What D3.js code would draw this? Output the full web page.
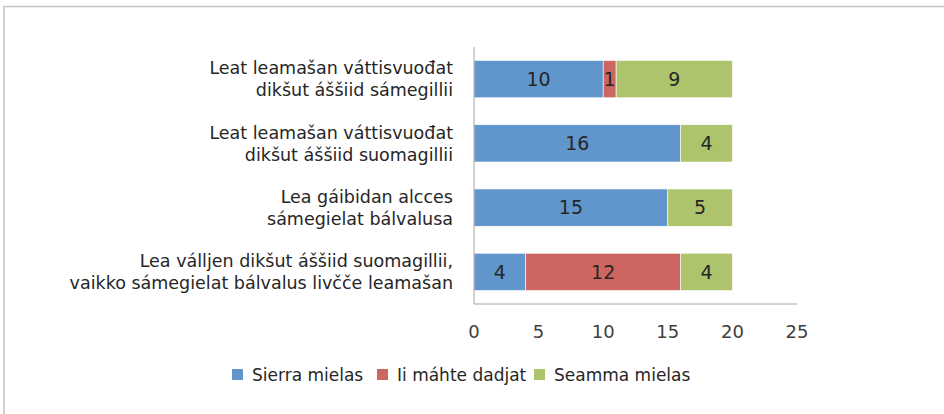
<!DOCTYPE html>
<html>
<head>
<meta charset="utf-8">
<script src="https://cdn.jsdelivr.net/npm/d3@7"></script>
<style>
  body { margin: 0; background: #fff; }
  svg text { font-family: "DejaVu Sans", sans-serif; }
</style>
</head>
<body>
<svg id="chart" width="944" height="414"></svg>
<script>
// categories top to bottom, two lines each
var categories = [
  ["Leat leamašan váttisvuođat", "dikšut áššiid sámegillii"],
  ["Leat leamašan váttisvuođat", "dikšut áššiid suomagillii"],
  ["Lea gáibidan alcces", "sámegielat bálvalusa"],
  ["Lea válljen dikšut áššiid suomagillii,", "vaikko sámegielat bálvalus livčče leamašan"]
];
var seriesNames = ["Sierra mielas", "Ii máhte dadjat", "Seamma mielas"];
var sierra = [10, 16, 15, 4];
var iiMahte = [1, 0, 0, 12];
var seamma = [9, 4, 5, 4];
var xTicks = [0, 5, 10, 15, 20, 25];
var colors = ["#6196cc", "#cd6661", "#adc46c"];

var svg = d3.select("#chart");

// outer frame
svg.append("rect")
   .attr("x", 4).attr("y", 6.5)
   .attr("width", 960).attr("height", 430)
   .attr("fill", "none")
   .attr("stroke", "#c4c4c4")
   .attr("stroke-width", 1.5);

var plotLeft = 474, plotRight = 797, plotTop = 47, plotBottom = 304;

var x = d3.scaleLinear().domain([0, 25]).range([plotLeft, plotRight]);
var y = d3.scaleBand().domain(d3.range(categories.length)).range([plotTop, plotBottom]).paddingInner(0.42).paddingOuter(0.21);

var rows = categories.map(function(c, i) {
  return { i: i, values: [sierra[i], iiMahte[i], seamma[i]] };
});

var stack = d3.stack().keys([0, 1, 2]).value(function(d, k) { return d.values[k]; });
var layers = stack(rows);

var g = svg.append("g");
layers.forEach(function(layer, k) {
  var sel = g.selectAll(".s" + k).data(layer.filter(function(d) { return d[1] > d[0]; }))
    .enter();
  sel.append("rect")
     .attr("x", function(d) { return x(d[0]); })
     .attr("y", function(d) { return y(d.data.i); })
     .attr("width", function(d) { return x(d[1]) - x(d[0]); })
     .attr("height", y.bandwidth())
     .attr("fill", colors[k])
     .attr("stroke", "#fff")
     .attr("stroke-width", 0.6);
  sel.append("text")
     .attr("x", function(d) { return (x(d[0]) + x(d[1])) / 2; })
     .attr("y", function(d) { return y(d.data.i) + y.bandwidth() / 2; })
     .attr("dy", "0.36em")
     .attr("text-anchor", "middle")
     .attr("font-size", 19)
     .attr("fill", "#262626")
     .text(function(d) { return d[1] - d[0]; });
});

// axes lines
svg.append("line")
   .attr("x1", plotLeft).attr("x2", plotLeft).attr("y1", plotTop).attr("y2", plotBottom)
   .attr("stroke", "#a6a6a6").attr("stroke-width", 1);
svg.append("line")
   .attr("x1", plotLeft).attr("x2", plotRight).attr("y1", plotBottom).attr("y2", plotBottom)
   .attr("stroke", "#a6a6a6").attr("stroke-width", 1);

// x tick labels
svg.selectAll(".xt").data(xTicks).enter().append("text")
   .attr("x", function(d) { return x(d); })
   .attr("y", 332)
   .attr("dy", "0.36em")
   .attr("text-anchor", "middle")
   .attr("font-size", 18)
   .attr("fill", "#404040")
   .text(function(d) { return d; });

// category labels
var cl = svg.selectAll(".cat").data(categories).enter().append("text")
   .attr("text-anchor", "end")
   .attr("font-size", 17.5)
   .attr("fill", "#262626");
cl.each(function(c, i) {
  var cy = y(i) + y.bandwidth() / 2;
  d3.select(this).selectAll("tspan").data(c).enter().append("tspan")
    .attr("x", 453)
    .attr("y", function(d, j) { return cy + (j - 0.5) * 22; })
    .attr("dy", "0.36em")
    .text(function(d) { return d; });
});

// legend
var legendX = [232, 377, 534];
seriesNames.forEach(function(name, k) {
  svg.append("rect")
     .attr("x", legendX[k]).attr("y", 369)
     .attr("width", 11).attr("height", 11)
     .attr("fill", colors[k]);
  svg.append("text")
     .attr("x", legendX[k] + 20).attr("y", 375)
     .attr("dy", "0.36em")
     .attr("font-size", 17)
     .attr("fill", "#262626")
     .text(name);
});
</script>
</body>
</html>
